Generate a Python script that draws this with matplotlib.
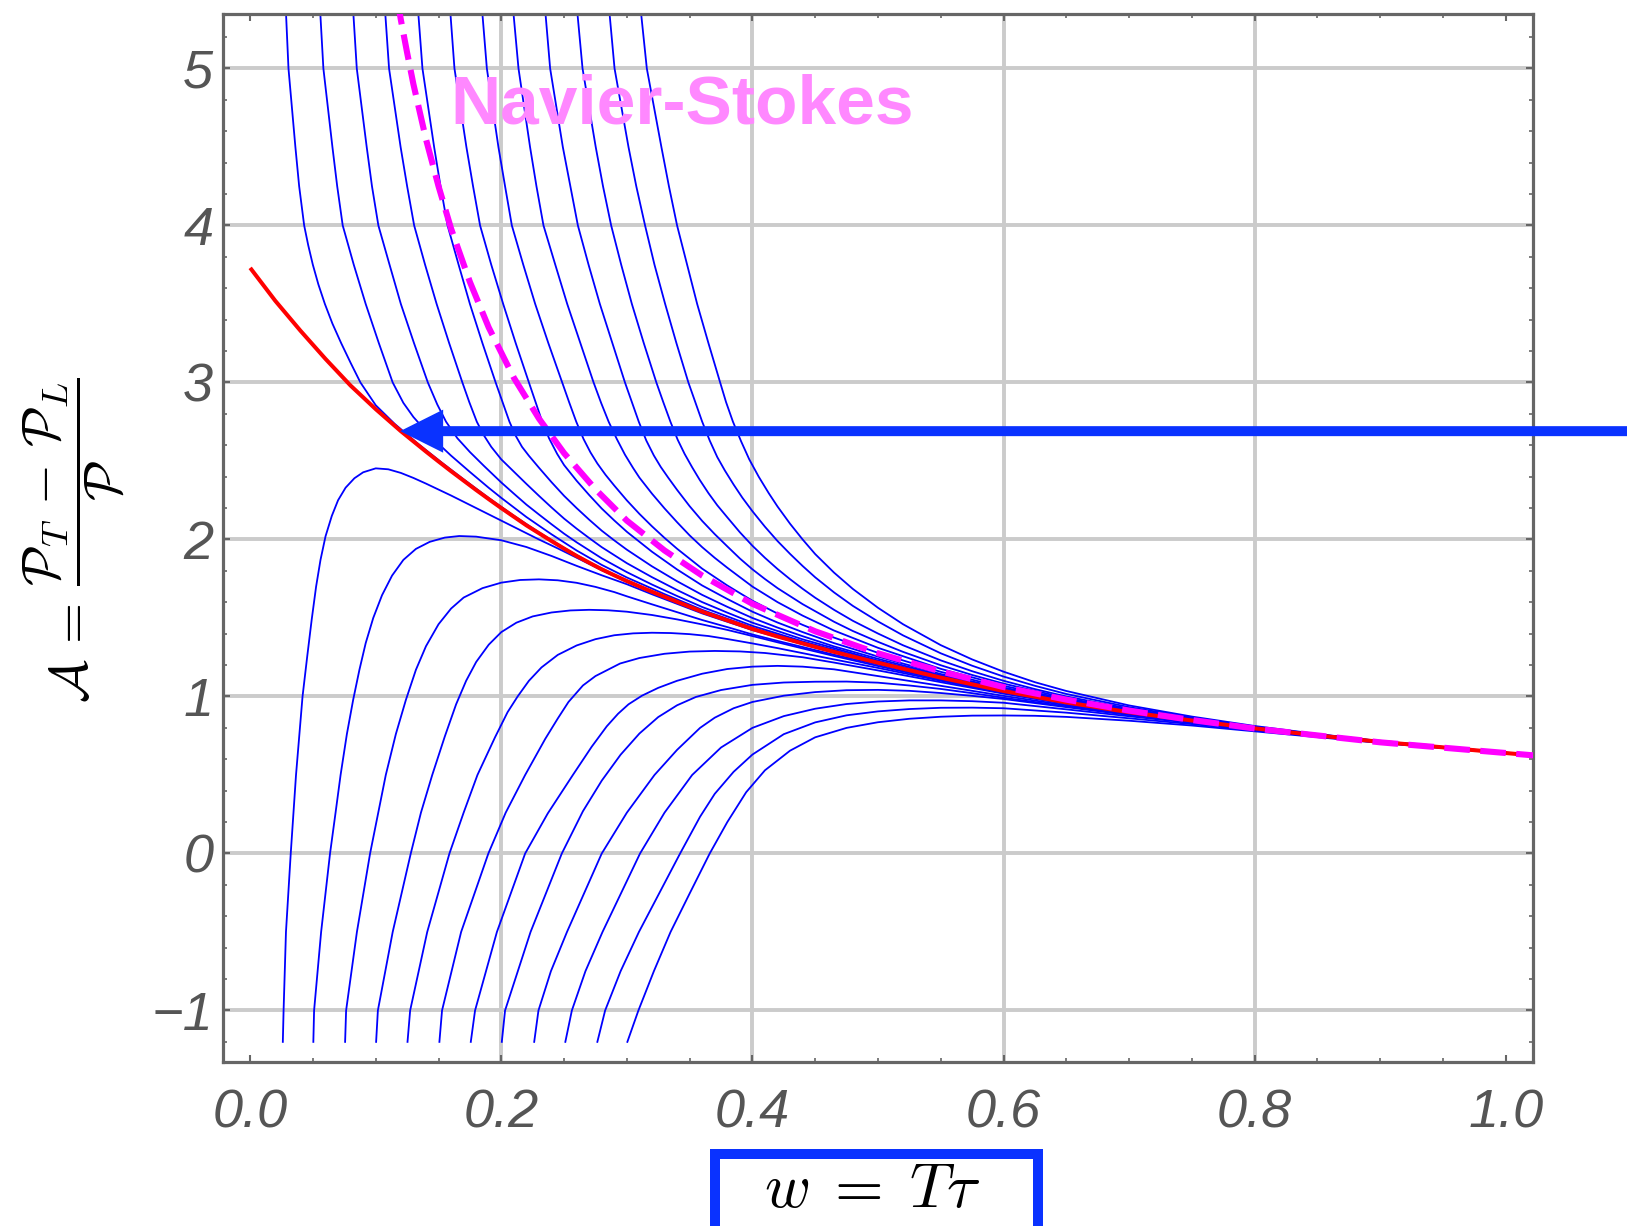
import matplotlib
matplotlib.use('Agg')
import matplotlib.pyplot as plt
from matplotlib.patches import Rectangle
from matplotlib.ticker import MultipleLocator

plt.rcParams['mathtext.fontset'] = 'cm'

# ---------------------------------------------------------------
# values
# ---------------------------------------------------------------
x_ticks = [0.0, 0.2, 0.4, 0.6, 0.8, 1.0]
x_ticklabels = ['0.0', '0.2', '0.4', '0.6', '0.8', '1.0']
y_ticks = [-1, 0, 1, 2, 3, 4, 5]
y_ticklabels = ['\u22121', '0', '1', '2', '3', '4', '5']
x_grid = [0.2, 0.4, 0.6, 0.8]
y_grid = [-1, 0, 1, 2, 3, 4, 5]

# Navier-Stokes curve (magenta, dashed)
ns_w = [0.116, 0.12, 0.125, 0.13, 0.14, 0.15, 0.16, 0.175, 0.19, 0.21, 0.23, 0.25, 0.275,
        0.3, 0.33, 0.36, 0.4, 0.45, 0.5, 0.55, 0.6, 0.65, 0.7, 0.75, 0.8, 0.9, 1.022]
ns_a = [5.5, 5.31, 5.1, 4.9, 4.55, 4.25, 3.98, 3.64, 3.35, 3.03, 2.77, 2.55, 2.32,
        2.12, 1.93, 1.77, 1.59, 1.415, 1.275, 1.16, 1.06, 0.98, 0.91, 0.85, 0.796, 0.708, 0.625]

# attractor (red)
att_w = [0.0, 0.01, 0.02, 0.03, 0.04, 0.05, 0.06, 0.07, 0.08, 0.09, 0.1, 0.11, 0.12, 0.13,
         0.14, 0.15, 0.16, 0.17, 0.18, 0.19, 0.2, 0.21, 0.22, 0.23, 0.24, 0.25, 0.26, 0.27,
         0.28, 0.29, 0.3, 0.32, 0.34, 0.36, 0.38, 0.4, 0.42, 0.44, 0.465, 0.5, 0.55, 0.6,
         0.65, 0.7, 0.75, 0.8, 0.85, 0.9, 0.95, 1.022]
att_a = [3.73, 3.625, 3.52, 3.425, 3.33, 3.24, 3.15, 3.065, 2.98, 2.905, 2.83, 2.76, 2.69, 2.625,
         2.56, 2.497, 2.435, 2.375, 2.315, 2.257, 2.2, 2.145, 2.09, 2.04, 1.99, 1.942, 1.895, 1.852,
         1.81, 1.772, 1.735, 1.667, 1.603, 1.54, 1.485, 1.43, 1.382, 1.338, 1.284, 1.215, 1.12, 1.035,
         0.962, 0.9, 0.847, 0.797, 0.752, 0.711, 0.676, 0.624]

# blue solutions entering from the top (large initial A)
up01 = [(0.0277, 5.5), (0.0305, 5.0), (0.036, 4.5), (0.039, 4.25), (0.043, 4.0), (0.0462, 3.875),
        (0.0499, 3.75), (0.0543, 3.625), (0.0595, 3.5), (0.0655, 3.375), (0.0725, 3.25), (0.08, 3.125),
        (0.0878, 3.0), (0.1, 2.855), (0.115, 2.737), (0.133, 2.614),
        (0.153, 2.487), (0.17, 2.383), (0.19, 2.264), (0.21, 2.151), (0.23, 2.045), (0.25, 1.946),
        (0.27, 1.855), (0.29, 1.775), (0.32, 1.669), (0.36, 1.542), (0.4, 1.432), (0.44, 1.339),
        (0.5, 1.216), (0.55, 1.121), (0.6, 1.036), (0.65, 0.963), (0.7, 0.9), (0.75, 0.847),
        (0.8, 0.797), (0.9, 0.711), (1.022, 0.625)]
up02 = [(0.0548, 5.5), (0.0583, 5.0), (0.0655, 4.5), (0.0693, 4.25), (0.0737, 4.0), (0.0825, 3.75),
        (0.092, 3.5), (0.1025, 3.25), (0.1135, 3.0), (0.122, 2.87), (0.13, 2.78), (0.14, 2.69),
        (0.15, 2.609), (0.16, 2.534), (0.175, 2.43), (0.19, 2.329), (0.2, 2.265), (0.22, 2.143),
        (0.24, 2.033), (0.26, 1.93), (0.28, 1.838), (0.3, 1.758), (0.33, 1.652), (0.36, 1.552),
        (0.4, 1.438), (0.45, 1.32), (0.5, 1.218), (0.55, 1.123), (0.6, 1.036), (0.65, 0.963),
        (0.7, 0.9), (0.75, 0.847), (0.8, 0.797), (0.9, 0.711), (1.022, 0.625)]
up03 = [(0.081, 5.5), (0.0849, 5.0), (0.0928, 4.5), (0.097, 4.25), (0.1021, 4.0), (0.111, 3.75),
        (0.12, 3.5), (0.1305, 3.25), (0.1415, 3.0), (0.149, 2.86), (0.156, 2.75), (0.165, 2.645),
        (0.175, 2.557), (0.186, 2.47), (0.2, 2.363), (0.21, 2.292), (0.22, 2.222), (0.23, 2.159),
        (0.24, 2.097), (0.25, 2.037), (0.26, 1.982), (0.28, 1.88), (0.3, 1.792), (0.32, 1.713),
        (0.34, 1.64), (0.36, 1.57), (0.38, 1.51), (0.4, 1.45), (0.44, 1.351), (0.5, 1.222),
        (0.55, 1.124), (0.6, 1.037), (0.65, 0.963), (0.7, 0.901), (0.75, 0.847), (0.8, 0.797),
        (0.9, 0.711), (1.022, 0.625)]
up04 = [(0.1063, 5.5), (0.1106, 5.0), (0.1198, 4.5), (0.125, 4.25), (0.1306, 4.0), (0.1393, 3.75),
        (0.1485, 3.5), (0.1585, 3.25), (0.169, 3.0), (0.1745, 2.875), (0.1805, 2.75), (0.186, 2.665),
        (0.192, 2.59), (0.2, 2.51), (0.21, 2.432), (0.22, 2.354), (0.23, 2.278), (0.24, 2.204),
        (0.25, 2.133), (0.26, 2.069), (0.27, 2.009), (0.28, 1.951), (0.3, 1.849), (0.32, 1.76),
        (0.34, 1.678), (0.36, 1.601), (0.38, 1.534), (0.4, 1.47), (0.44, 1.364), (0.5, 1.229),
        (0.55, 1.128), (0.6, 1.04), (0.65, 0.965), (0.7, 0.902), (0.75, 0.848), (0.8, 0.798),
        (0.9, 0.711), (1.022, 0.625)]
up05 = [(0.1325, 5.5), (0.1372, 5.0), (0.1465, 4.5), (0.1516, 4.25), (0.1572, 4.0), (0.166, 3.75),
        (0.175, 3.5), (0.185, 3.25), (0.1955, 3.0), (0.201, 2.875), (0.2065, 2.75), (0.2115, 2.66),
        (0.2165, 2.59), (0.222, 2.533), (0.23, 2.457), (0.24, 2.365), (0.25, 2.278), (0.26, 2.2),
        (0.27, 2.126), (0.28, 2.056), (0.29, 1.994), (0.3, 1.935), (0.32, 1.829), (0.34, 1.734),
        (0.36, 1.647), (0.38, 1.571), (0.4, 1.5), (0.42, 1.439), (0.44, 1.384), (0.465, 1.319),
        (0.5, 1.24), (0.55, 1.135), (0.6, 1.044), (0.65, 0.967), (0.7, 0.903), (0.75, 0.849),
        (0.8, 0.798), (0.9, 0.711), (1.022, 0.625)]
up06 = [(0.1581, 5.5), (0.1627, 5.0), (0.1722, 4.5), (0.1775, 4.25), (0.1831, 4.0), (0.192, 3.75),
        (0.2015, 3.5), (0.2115, 3.25), (0.222, 3.0), (0.2273, 2.875), (0.2326, 2.75), (0.238, 2.645),
        (0.2445, 2.545), (0.25, 2.474), (0.26, 2.374), (0.27, 2.283), (0.28, 2.197), (0.29, 2.121),
        (0.3, 2.049), (0.32, 1.922), (0.34, 1.809), (0.36, 1.707), (0.38, 1.621), (0.4, 1.54),
        (0.42, 1.471), (0.44, 1.41), (0.465, 1.34), (0.5, 1.254), (0.55, 1.143), (0.6, 1.049),
        (0.65, 0.97), (0.7, 0.905), (0.75, 0.85), (0.8, 0.799), (0.9, 0.711), (1.022, 0.625)]
up07 = [(0.1834, 5.5), (0.1885, 5.0), (0.1977, 4.5), (0.203, 4.25), (0.2084, 4.0), (0.2175, 3.75),
        (0.227, 3.5), (0.2375, 3.25), (0.2485, 3.0), (0.254, 2.875), (0.2597, 2.75), (0.2655, 2.64),
        (0.271, 2.555), (0.2765, 2.484), (0.283, 2.412), (0.29, 2.343), (0.3, 2.249), (0.31, 2.163),
        (0.32, 2.084), (0.33, 2.01), (0.34, 1.941), (0.36, 1.814), (0.38, 1.707), (0.4, 1.61),
        (0.42, 1.528), (0.44, 1.456), (0.465, 1.375), (0.5, 1.278), (0.55, 1.157), (0.6, 1.057),
        (0.65, 0.975), (0.7, 0.908), (0.75, 0.852), (0.8, 0.8), (0.9, 0.712), (1.022, 0.625)]
up08 = [(0.208, 5.5), (0.2137, 5.0), (0.2229, 4.5), (0.228, 4.25), (0.2336, 4.0), (0.243, 3.75),
        (0.2525, 3.5), (0.263, 3.25), (0.2735, 3.0), (0.2795, 2.87), (0.2855, 2.75), (0.292, 2.64),
        (0.2985, 2.54), (0.305, 2.455), (0.31, 2.394), (0.32, 2.292), (0.33, 2.198), (0.34, 2.11),
        (0.35, 2.026), (0.36, 1.951), (0.37, 1.883), (0.38, 1.82), (0.4, 1.7), (0.42, 1.601),
        (0.44, 1.515), (0.465, 1.42), (0.5, 1.31), (0.55, 1.176), (0.6, 1.068), (0.65, 0.982),
        (0.7, 0.912), (0.75, 0.854), (0.8, 0.801), (0.9, 0.712), (1.022, 0.625)]
up09 = [(0.2336, 5.5), (0.2389, 5.0), (0.249, 4.5), (0.255, 4.25), (0.261, 4.0), (0.2695, 3.75),
        (0.2785, 3.5), (0.2885, 3.25), (0.2985, 3.0), (0.304, 2.875), (0.3095, 2.75), (0.3155, 2.63),
        (0.3215, 2.535), (0.327, 2.462), (0.333, 2.393), (0.34, 2.316), (0.35, 2.212), (0.36, 2.118),
        (0.37, 2.034), (0.38, 1.956), (0.39, 1.879), (0.4, 1.81), (0.41, 1.748), (0.42, 1.69),
        (0.44, 1.588), (0.465, 1.476), (0.48, 1.417), (0.5, 1.348), (0.52, 1.284), (0.55, 1.199),
        (0.575, 1.137), (0.6, 1.082), (0.65, 0.99), (0.7, 0.916), (0.75, 0.857), (0.8, 0.803),
        (0.9, 0.713), (1.022, 0.626)]
up10 = [(0.2589, 5.5), (0.2647, 5.0), (0.2752, 4.5), (0.281, 4.25), (0.2875, 4.0), (0.2955, 3.75),
        (0.304, 3.5), (0.3135, 3.25), (0.3235, 3.0), (0.329, 2.875), (0.3347, 2.75), (0.3405, 2.635),
        (0.346, 2.545), (0.352, 2.46), (0.358, 2.38), (0.365, 2.295), (0.372, 2.218), (0.38, 2.141),
        (0.39, 2.046), (0.4, 1.96), (0.41, 1.883), (0.42, 1.812), (0.43, 1.747), (0.44, 1.686),
        (0.45, 1.629), (0.465, 1.552), (0.48, 1.482), (0.5, 1.401), (0.52, 1.326), (0.55, 1.23),
        (0.575, 1.161), (0.6, 1.1), (0.625, 1.047), (0.65, 1.0), (0.7, 0.923), (0.75, 0.86),
        (0.8, 0.805), (0.85, 0.757), (0.9, 0.714), (0.95, 0.678), (1.022, 0.626)]
up11 = [(0.2845, 5.5), (0.2902, 5.0), (0.3013, 4.5), (0.3075, 4.25), (0.3145, 4.0), (0.322, 3.75),
        (0.3305, 3.5), (0.3395, 3.25), (0.349, 3.0), (0.3545, 2.875), (0.36, 2.75), (0.366, 2.63),
        (0.372, 2.525), (0.378, 2.44), (0.385, 2.35), (0.392, 2.266), (0.4, 2.18), (0.41, 2.081),
        (0.42, 1.99), (0.43, 1.908), (0.44, 1.831), (0.45, 1.759), (0.465, 1.663), (0.48, 1.577),
        (0.5, 1.478), (0.52, 1.389), (0.55, 1.275), (0.575, 1.196), (0.6, 1.127), (0.625, 1.068),
        (0.65, 1.016), (0.7, 0.932), (0.75, 0.866), (0.8, 0.808), (0.85, 0.759), (0.9, 0.715),
        (0.95, 0.678), (1.022, 0.626)]
up12 = [(0.3094, 5.5), (0.3159, 5.0), (0.3275, 4.5), (0.3335, 4.25), (0.34, 4.0), (0.348, 3.75),
        (0.356, 3.5), (0.365, 3.25), (0.3743, 3.0), (0.379, 2.875), (0.3845, 2.75), (0.391, 2.625),
        (0.3975, 2.51), (0.405, 2.4), (0.413, 2.295), (0.42, 2.21), (0.43, 2.1), (0.44, 2.0),
        (0.45, 1.907), (0.465, 1.789), (0.48, 1.685), (0.5, 1.565), (0.52, 1.46), (0.55, 1.327),
        (0.575, 1.236), (0.6, 1.158), (0.625, 1.091), (0.65, 1.035), (0.7, 0.943), (0.75, 0.872),
        (0.8, 0.812), (0.85, 0.761), (0.9, 0.716), (0.95, 0.679), (1.022, 0.627)]

# blue solutions entering from the bottom (negative initial A)
lo01 = [(0.026, -1.2), (0.0266, -1.0), (0.0285, -0.5), (0.0323, 0.0), (0.0365, 0.5), (0.0417, 1.0),
        (0.0455, 1.26), (0.049, 1.49), (0.0525, 1.7), (0.056, 1.87), (0.06, 2.02), (0.065, 2.15),
        (0.07, 2.25), (0.076, 2.33), (0.083, 2.39), (0.09, 2.428), (0.1, 2.453), (0.11, 2.447),
        (0.12, 2.424), (0.13, 2.392), (0.14, 2.356), (0.16, 2.28), (0.18, 2.2), (0.2, 2.12),
        (0.215, 2.06), (0.23, 2.0), (0.245, 1.943), (0.26, 1.884), (0.28, 1.804), (0.3, 1.731),
        (0.32, 1.665), (0.34, 1.601), (0.36, 1.539), (0.4, 1.429), (0.44, 1.337), (0.5, 1.215),
        (0.55, 1.12), (0.6, 1.034), (0.65, 0.962), (0.7, 0.9), (0.75, 0.847), (0.8, 0.797),
        (0.9, 0.711), (1.022, 0.624)]
lo02 = [(0.0503, -1.2), (0.0509, -1.0), (0.0565, -0.5), (0.0636, 0.0), (0.068, 0.26), (0.072, 0.5),
        (0.077, 0.76), (0.082, 0.978), (0.087, 1.17), (0.092, 1.34), (0.098, 1.5), (0.105, 1.645),
        (0.113, 1.77), (0.122, 1.87), (0.132, 1.94), (0.143, 1.985), (0.155, 2.012), (0.1665, 2.022),
        (0.18, 2.018), (0.2, 1.995), (0.22, 1.952), (0.24, 1.895), (0.26, 1.832), (0.28, 1.772),
        (0.3, 1.715), (0.32, 1.651), (0.34, 1.59), (0.36, 1.529), (0.4, 1.423), (0.45, 1.311),
        (0.5, 1.213), (0.55, 1.119), (0.6, 1.034), (0.65, 0.961), (0.7, 0.9), (0.75, 0.847),
        (0.8, 0.797), (0.9, 0.711), (1.022, 0.624)]
lo03 = [(0.0756, -1.2), (0.0764, -1.0), (0.085, -0.5), (0.0955, 0.0), (0.102, 0.26), (0.108, 0.5),
        (0.116, 0.76), (0.124, 0.978), (0.132, 1.17), (0.14, 1.32), (0.15, 1.46), (0.16, 1.56),
        (0.17, 1.63), (0.185, 1.69), (0.2, 1.725), (0.215, 1.742), (0.23, 1.746), (0.245, 1.74),
        (0.26, 1.724), (0.275, 1.698), (0.29, 1.665), (0.3, 1.638), (0.32, 1.587), (0.34, 1.537),
        (0.36, 1.487), (0.38, 1.442), (0.4, 1.395), (0.42, 1.354), (0.44, 1.315), (0.465, 1.266),
        (0.5, 1.203), (0.55, 1.113), (0.6, 1.031), (0.65, 0.959), (0.7, 0.898), (0.75, 0.846),
        (0.8, 0.796), (0.9, 0.711), (1.022, 0.624)]
lo04 = [(0.1003, -1.2), (0.1017, -1.0), (0.1135, -0.5), (0.1279, 0.0), (0.136, 0.26), (0.145, 0.5),
        (0.155, 0.745), (0.164, 0.95), (0.172, 1.1), (0.18, 1.22), (0.19, 1.33), (0.2, 1.41),
        (0.212, 1.47), (0.225, 1.51), (0.24, 1.535), (0.255, 1.548), (0.27, 1.552), (0.285, 1.549),
        (0.3, 1.54), (0.32, 1.519), (0.34, 1.491), (0.36, 1.459), (0.38, 1.424), (0.4, 1.385),
        (0.42, 1.345), (0.44, 1.306), (0.465, 1.258), (0.5, 1.194), (0.55, 1.106), (0.6, 1.026),
        (0.65, 0.957), (0.7, 0.897), (0.75, 0.845), (0.8, 0.796), (0.9, 0.711), (1.022, 0.624)]
lo05 = [(0.1253, -1.2), (0.1274, -1.0), (0.141, -0.5), (0.1587, 0.0), (0.17, 0.26), (0.181, 0.5),
        (0.195, 0.74), (0.205, 0.9), (0.213, 1.0), (0.222, 1.1), (0.232, 1.185), (0.245, 1.265),
        (0.26, 1.325), (0.275, 1.365), (0.29, 1.39), (0.305, 1.402), (0.32, 1.406), (0.335, 1.404),
        (0.35, 1.397), (0.365, 1.385), (0.38, 1.366), (0.4, 1.338), (0.42, 1.308), (0.44, 1.276),
        (0.465, 1.236), (0.5, 1.182), (0.55, 1.1), (0.6, 1.022), (0.65, 0.954), (0.7, 0.895),
        (0.75, 0.844), (0.8, 0.795), (0.9, 0.71), (1.022, 0.624)]
lo06 = [(0.1507, -1.2), (0.1528, -1.0), (0.168, -0.5), (0.1897, 0.0), (0.2035, 0.26), (0.219, 0.5),
        (0.235, 0.73), (0.245, 0.86), (0.2535, 0.965), (0.265, 1.07), (0.275, 1.13), (0.2946, 1.21),
        (0.31, 1.245), (0.33, 1.272), (0.35, 1.286), (0.37, 1.29), (0.39, 1.287), (0.41, 1.277),
        (0.44, 1.25), (0.465, 1.216), (0.5, 1.166), (0.55, 1.091), (0.6, 1.018), (0.65, 0.952),
        (0.7, 0.894), (0.75, 0.843), (0.8, 0.795), (0.9, 0.71), (1.022, 0.624)]
lo07 = [(0.1757, -1.2), (0.1791, -1.0), (0.1965, -0.5), (0.219, 0.0), (0.237, 0.255), (0.257, 0.5),
        (0.272, 0.68), (0.284, 0.81), (0.293, 0.89), (0.3013, 0.95), (0.312, 1.005), (0.325, 1.055),
        (0.34, 1.1), (0.36, 1.145), (0.38, 1.175), (0.4, 1.19), (0.42, 1.195), (0.44, 1.19),
        (0.465, 1.173), (0.5, 1.13), (0.55, 1.068), (0.6, 1.004), (0.65, 0.944), (0.7, 0.889),
        (0.75, 0.841), (0.8, 0.794), (0.9, 0.71), (1.022, 0.624)]
lo08 = [(0.2004, -1.2), (0.203, -1.0), (0.2233, -0.5), (0.2482, 0.0), (0.265, 0.269), (0.28, 0.464),
        (0.295, 0.629), (0.31, 0.764), (0.325, 0.869), (0.34, 0.944), (0.355, 0.997), (0.375, 1.041),
        (0.4, 1.074), (0.425, 1.089), (0.45, 1.094), (0.475, 1.095), (0.5, 1.088), (0.525, 1.07),
        (0.55, 1.048), (0.575, 1.021), (0.6, 0.992), (0.65, 0.937), (0.7, 0.885), (0.75, 0.838),
        (0.8, 0.792), (0.9, 0.709), (1.022, 0.624)]
lo09 = [(0.2262, -1.2), (0.2296, -1.0), (0.2395, -0.75), (0.2523, -0.5), (0.28, 0.0), (0.3, 0.26),
        (0.322, 0.5), (0.34, 0.66), (0.3583, 0.8), (0.37, 0.865), (0.385, 0.925), (0.4, 0.965),
        (0.425, 1.005), (0.45, 1.028), (0.475, 1.04), (0.5, 1.042), (0.525, 1.036), (0.55, 1.022),
        (0.575, 1.004), (0.6, 0.984), (0.65, 0.932), (0.7, 0.882), (0.75, 0.836), (0.8, 0.791),
        (0.9, 0.709), (1.022, 0.624)]
lo10 = [(0.251, -1.2), (0.2562, -1.0), (0.267, -0.75), (0.2806, -0.5), (0.3105, 0.0), (0.33, 0.26),
        (0.352, 0.5), (0.375, 0.675), (0.4, 0.8), (0.425, 0.875), (0.45, 0.922), (0.475, 0.952),
        (0.5, 0.968), (0.525, 0.975), (0.55, 0.975), (0.575, 0.97), (0.6, 0.96), (0.65, 0.918),
        (0.7, 0.874), (0.75, 0.831), (0.8, 0.788), (0.9, 0.708), (1.022, 0.624)]
lo11 = [(0.2765, -1.2), (0.2827, -1.0), (0.295, -0.75), (0.3096, -0.5), (0.3424, 0.0), (0.3583, 0.234),
        (0.37, 0.38), (0.385, 0.52), (0.4, 0.63), (0.425, 0.76), (0.45, 0.835), (0.475, 0.88),
        (0.5, 0.905), (0.525, 0.92), (0.55, 0.928), (0.575, 0.929), (0.6, 0.925), (0.65, 0.897),
        (0.7, 0.861), (0.75, 0.824), (0.8, 0.784), (0.9, 0.706), (1.022, 0.624)]
lo12 = [(0.3004, -1.2), (0.3092, -1.0), (0.3215, -0.75), (0.3348, -0.5), (0.35, -0.255), (0.366, 0.0),
        (0.38, 0.2), (0.395, 0.39), (0.41, 0.53), (0.43, 0.655), (0.45, 0.74), (0.475, 0.8),
        (0.5, 0.836), (0.525, 0.858), (0.55, 0.871), (0.575, 0.878), (0.6, 0.879), (0.625, 0.877),
        (0.65, 0.87), (0.7, 0.8455), (0.75, 0.815), (0.8, 0.778), (0.9, 0.704), (1.022, 0.623)]

upper = [up01, up02, up03, up04, up05, up06, up07, up08, up09, up10, up11, up12]
lower = [lo01, lo02, lo03, lo04, lo05, lo06, lo07, lo08, lo09, lo10, lo11, lo12]

arrow_tip = (0.1194, 2.69)

# ---------------------------------------------------------------
# figure
# ---------------------------------------------------------------
C_BLUE = '#0000ff'
C_ARROW = '#0a32ff'
C_GRID = '#cbcbcb'
C_FRAME = '#666666'

fig = plt.figure(figsize=(16.27, 12.26), dpi=100)
ax = fig.add_axes([0.1371, 0.1334, 0.8049, 0.8548])

for g in x_grid:
    ax.axvline(g, color=C_GRID, lw=2.8, zorder=0.5)
for g in y_grid:
    ax.axhline(g, color=C_GRID, lw=2.8, zorder=0.5)

for c in upper + lower:
    w, a = zip(*c)
    ax.plot(w, a, color=C_BLUE, lw=1.3, zorder=2)

ax.plot(att_w, att_a, color='#ff0000', lw=2.9, zorder=3, solid_capstyle='butt')
ax.plot(ns_w, ns_a, color='#ff00ff', lw=4.4, ls=(0, (4.2, 1.7)), zorder=4)

ax.text(0.1592, 4.651, 'Navier-Stokes', fontsize=50, fontweight='bold',
        color='#ff88ff', family='Liberation Sans', ha='left', va='baseline', zorder=6)

ax.annotate('', xy=arrow_tip, xycoords='data',
            xytext=(1.0, arrow_tip[1]), textcoords=('figure fraction', 'data'),
            arrowprops=dict(arrowstyle='simple,head_length=31,head_width=31,tail_width=7.2',
                            mutation_scale=1, color=C_ARROW, shrinkA=0, shrinkB=0, lw=0),
            annotation_clip=False, zorder=5)

ax.set_xlim(-0.0216, 1.0214)
ax.set_ylim(-1.331, 5.344)

ax.set_xticks(x_ticks)
ax.set_xticklabels(x_ticklabels)
ax.set_yticks(y_ticks)
ax.set_yticklabels(y_ticklabels)
ax.xaxis.set_minor_locator(MultipleLocator(0.05))
ax.yaxis.set_minor_locator(MultipleLocator(0.2))
ax.tick_params(which='both', direction='in', top=True, right=True, color=C_FRAME)
ax.tick_params(which='major', length=5, width=1.5)
ax.tick_params(which='minor', length=3, width=1.2)
ax.tick_params(axis='x', pad=19)
ax.tick_params(axis='y', pad=7)
for lab in ax.get_xticklabels() + ax.get_yticklabels():
    lab.set_fontfamily('Liberation Sans')
    lab.set_fontstyle('italic')
    lab.set_fontsize(39)
    lab.set_color('#555555')
for sp in ax.spines.values():
    sp.set_color(C_FRAME)
    sp.set_linewidth(2.3)

# axis titles
fig.text(0.045, 0.5596,
         r'$\mathcal{A}\,=\,\dfrac{\mathcal{P}_T\,-\,\mathcal{P}_L}{\mathcal{P}}$',
         rotation=90, fontsize=38, ha='center', va='center')

box = Rectangle((0.4395, -0.02), 0.1985, 0.0785, transform=fig.transFigure,
                facecolor='white', edgecolor=C_ARROW, lw=7.2, figure=fig)
fig.patches.append(box)
fig.text(0.5363, 0.029, r'$w\;=\;T\tau$', fontsize=45, ha='center', va='center')

fig.savefig('out.png', dpi=100)
